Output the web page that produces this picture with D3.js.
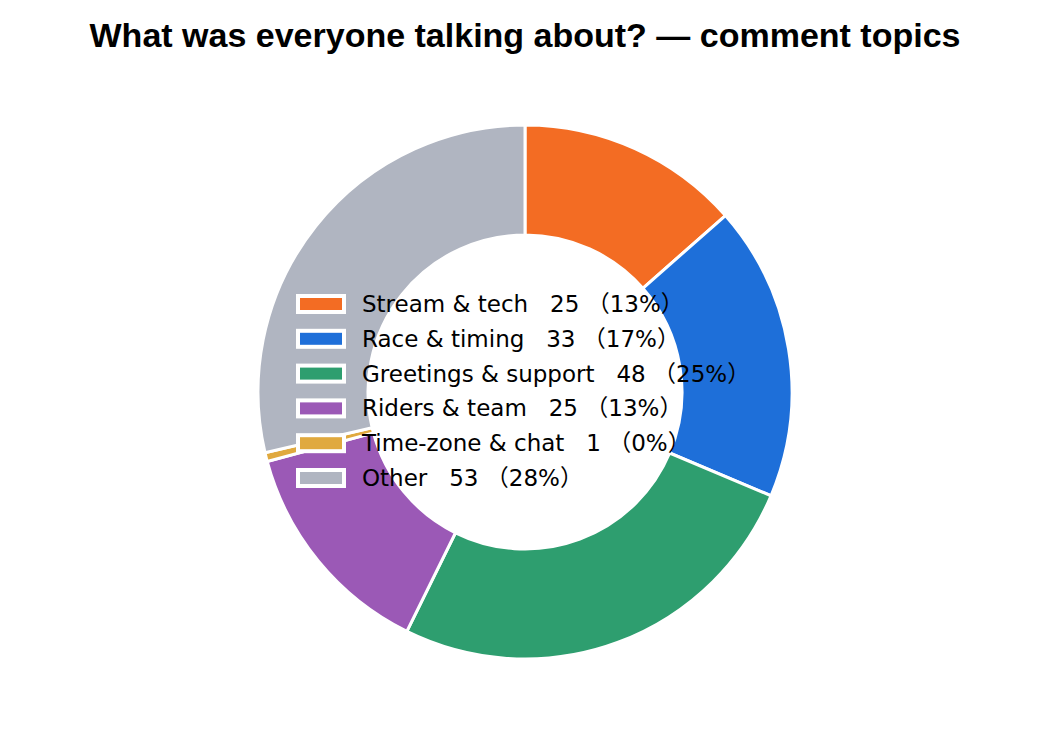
<!DOCTYPE html>
<html>
<head>
<meta charset="utf-8">
<script src="https://cdn.jsdelivr.net/npm/d3@7"></script>
<style>
  body { margin: 0; background: #fff; }
  text { font-family: "DejaVu Sans", "Noto Sans CJK JP", sans-serif; }
  .title { font-family: "Liberation Sans", Arial, sans-serif; }
</style>
</head>
<body>
<div id="chart"></div>
<script>
const topics = ["Stream & tech", "Race & timing", "Greetings & support", "Riders & team", "Time-zone & chat", "Other"];
const counts = [25, 33, 48, 25, 1, 53];
const colors = ["#f36c23", "#1e6fd9", "#2e9e6f", "#9b59b6", "#e0a93e", "#b0b5c1"];

const width = 1050;
const height = 750;
const cx = 525, cy = 392;
const outerR = 267, innerR = 157;

const total = d3.sum(counts);
const data = topics.map((t, i) => ({ topic: t, count: counts[i] }));

const color = d3.scaleOrdinal().domain(topics).range(colors);

const svg = d3
  .select("#chart")
  .append("svg")
  .attr("width", width)
  .attr("height", height);

// Title
svg
  .append("text")
  .attr("class", "title")
  .attr("x", cx)
  .attr("y", 47)
  .attr("text-anchor", "middle")
  .attr("font-size", "34px")
  .attr("font-weight", "bold")
  .text("What was everyone talking about? — comment topics");

const pie = d3.pie().sort(null).value((d) => d.count);
const arc = d3.arc().innerRadius(innerR).outerRadius(outerR);

svg
  .append("g")
  .attr("transform", `translate(${cx},${cy})`)
  .selectAll("path")
  .data(pie(data))
  .enter()
  .append("path")
  .attr("d", arc)
  .attr("fill", (d) => color(d.data.topic))
  .attr("stroke", "white")
  .attr("stroke-width", 3);

// legend, sits inside the hole
const legend = svg.append("g").attr("transform", "translate(296,304)");
const rowH = 34.8;

const rows = legend
  .selectAll("g")
  .data(data)
  .enter()
  .append("g")
  .attr("transform", (d, i) => `translate(0,${i * rowH})`);

rows
  .append("rect")
  .attr("x", 0)
  .attr("y", -10)
  .attr("width", 50)
  .attr("height", 20)
  .attr("fill", "white");

rows
  .append("rect")
  .attr("x", 4)
  .attr("y", -6)
  .attr("width", 42)
  .attr("height", 12)
  .attr("fill", (d) => color(d.topic));

rows
  .append("text")
  .attr("x", 66)
  .attr("y", 8)
  .attr("font-size", "23px")
  .attr("fill", "#000")
  .text((d) => `${d.topic}   ${d.count} （${Math.floor((d.count / total) * 100)}%）`)
  .attr("xml:space", "preserve")
  .style("white-space", "pre");
</script>
</body>
</html>
